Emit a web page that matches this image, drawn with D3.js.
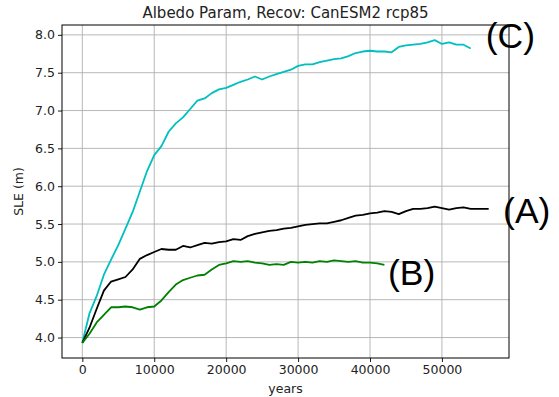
<!DOCTYPE html>
<html><head>
<meta charset="utf-8">
<script src="https://d3js.org/d3.v7.min.js"></script>
<style>
  body { margin: 0; background: #fff; }
  text { font-family: "DejaVu Sans", sans-serif; fill: #222; }
  .grid line { stroke: #b0b0b0; stroke-width: 0.9px; }
  .tag { font-family: "Liberation Sans", Arial, sans-serif; font-size: 35.5px; fill: #000; }
</style>
</head>
<body>
<svg id="chart" width="559" height="397"></svg>
<script>

// values, one every 1000 years
const step = 1000;
const sleC = [3.93, 4.32, 4.55, 4.83, 5.03, 5.22, 5.44, 5.66, 5.93, 6.20,
              6.41, 6.53, 6.72, 6.83, 6.91, 7.02, 7.13, 7.16, 7.23, 7.28,
              7.30, 7.34, 7.38, 7.41, 7.45, 7.41, 7.45, 7.48, 7.51, 7.54,
              7.59, 7.61, 7.61, 7.64, 7.66, 7.68, 7.69, 7.72, 7.76, 7.78,
              7.79, 7.78, 7.78, 7.77, 7.84, 7.86, 7.87, 7.88, 7.90, 7.93,
              7.88, 7.90, 7.87, 7.87, 7.82];
const sleA = [3.93, 4.13, 4.38, 4.62, 4.74, 4.77, 4.80, 4.90, 5.04, 5.09,
              5.13, 5.17, 5.16, 5.16, 5.21, 5.19, 5.22, 5.25, 5.24, 5.26,
              5.27, 5.30, 5.29, 5.34, 5.37, 5.39, 5.41, 5.42, 5.44, 5.45,
              5.47, 5.49, 5.50, 5.51, 5.51, 5.53, 5.55, 5.58, 5.61, 5.62,
              5.64, 5.65, 5.67, 5.66, 5.63, 5.67, 5.70, 5.70, 5.71, 5.73,
              5.71, 5.69, 5.71, 5.72, 5.70, 5.70, 5.70, 5.70];
const sleB = [3.93, 4.05, 4.20, 4.30, 4.40, 4.40, 4.41, 4.40, 4.37, 4.40,
              4.41, 4.49, 4.60, 4.70, 4.76, 4.79, 4.82, 4.83, 4.90, 4.96,
              4.98, 5.01, 5.00, 5.01, 4.99, 4.98, 4.96, 4.97, 4.96, 5.00,
              4.99, 5.00, 4.99, 5.01, 5.00, 5.02, 5.01, 5.00, 5.01, 4.99,
              4.99, 4.98, 4.96];
const lastA = 56500;  // black run is a bit longer than a whole step

const xTicks = [0, 10000, 20000, 30000, 40000, 50000];
const yTicks = [4.0, 4.5, 5.0, 5.5, 6.0, 6.5, 7.0, 7.5, 8.0];

const series = [
  { name: "(C)", vals: sleC, color: "#00bfbf" },
  { name: "(A)", vals: sleA, color: "#000000" },
  { name: "(B)", vals: sleB, color: "#008000" }
];

const svg = d3.select("#chart");
const m = { left: 62, right: 509, top: 25, bottom: 358 };

const x = d3.scaleLinear().domain([-2825, 59325]).range([m.left, m.right]);
const y = d3.scaleLinear().domain([3.7295, 8.1305]).range([m.bottom, m.top]);

// grid
const g = svg.append("g").attr("class", "grid");
g.selectAll("line.v").data(xTicks).join("line").attr("class", "v")
  .attr("x1", d => x(d)).attr("x2", d => x(d)).attr("y1", m.top).attr("y2", m.bottom);
g.selectAll("line.h").data(yTicks).join("line").attr("class", "h")
  .attr("y1", d => y(d)).attr("y2", d => y(d)).attr("x1", m.left).attr("x2", m.right);

// lines
const line = d3.line().x(d => x(d[0])).y(d => y(d[1]));
series.forEach(s => {
  let pts = s.vals.map((v, i) => [i * step, v]);
  if (s.name === "(A)") pts[pts.length - 1][0] = lastA;
  svg.append("path").datum(pts)
    .attr("fill", "none").attr("stroke", s.color)
    .attr("stroke-width", 1.8).attr("stroke-linejoin", "round")
    .attr("d", line);
});

// axes
const xAxis = svg.append("g").attr("transform", `translate(0,${m.bottom})`)
  .call(d3.axisBottom(x).tickValues(xTicks).tickFormat(d3.format("d")).tickSize(4).tickPadding(3));
const yAxis = svg.append("g").attr("transform", `translate(${m.left},0)`)
  .call(d3.axisLeft(y).tickValues(yTicks).tickFormat(d3.format(".1f")).tickSize(4).tickPadding(3));
[xAxis, yAxis].forEach(a => {
  a.selectAll("text").style("font-size", "12.5px").style("font-family", "DejaVu Sans").attr("fill", "#222");
  a.selectAll("line").attr("stroke", "#000").attr("stroke-width", 0.9);
  a.select(".domain").remove();
});

// frame
svg.append("rect").attr("x", m.left).attr("y", m.top)
  .attr("width", m.right - m.left).attr("height", m.bottom - m.top)
  .attr("fill", "none").attr("stroke", "#000").attr("stroke-width", 1);

// labels
svg.append("text").attr("x", (m.left + m.right) / 2).attr("y", 18)
  .attr("text-anchor", "middle").style("font-size", "15px")
  .text("Albedo Param, Recov: CanESM2 rcp85");
svg.append("text").attr("x", (m.left + m.right) / 2).attr("y", 393)
  .attr("text-anchor", "middle").style("font-size", "12.5px").text("years");
svg.append("text").attr("transform", `translate(23,${(m.top + m.bottom) / 2}) rotate(-90)`)
  .attr("text-anchor", "middle").style("font-size", "12.5px").text("SLE (m)");

// big series tags
const tags = [
  { t: "(C)", xv: 56100, yv: 7.82 },
  { t: "(A)", xv: 58500, yv: 5.51 },
  { t: "(B)", xv: 42500, yv: 4.70 }
];
svg.selectAll("text.tag").data(tags).join("text").attr("class", "tag")
  .attr("x", d => x(d.xv)).attr("y", d => y(d.yv)).text(d => d.t);

</script>
</body>
</html>
